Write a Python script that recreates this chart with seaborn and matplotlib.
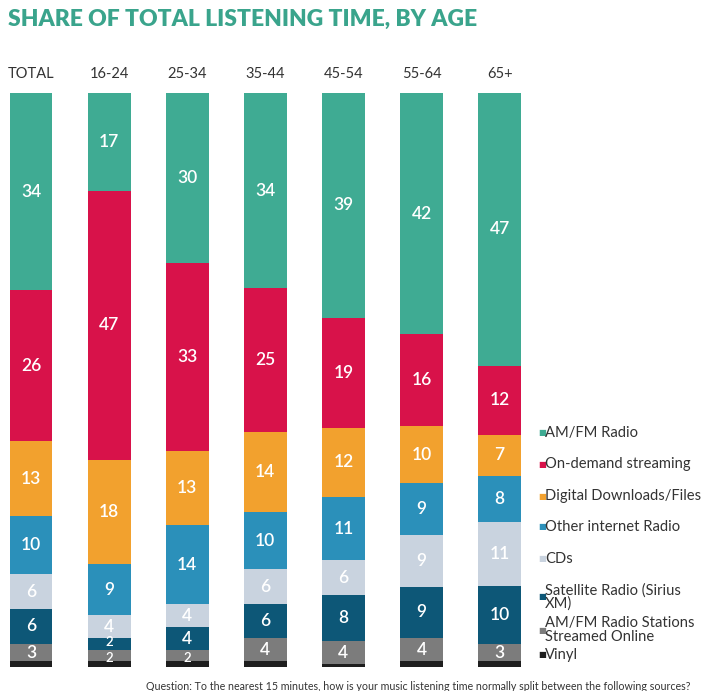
import numpy as np
import pandas as pd
import matplotlib.pyplot as plt
import seaborn as sns

# ---- data ----
ages = ['TOTAL', '16-24', '25-34', '35-44', '45-54', '55-64', '65+']
am_fm = [34, 17, 30, 34, 39, 42, 47]
on_demand = [26, 47, 33, 25, 19, 16, 12]
downloads = [13, 18, 13, 14, 12, 10, 7]
other_radio = [10, 9, 14, 10, 11, 9, 8]
cds = [6, 4, 4, 6, 6, 9, 11]
satellite = [6, 2, 4, 6, 8, 9, 10]
streamed = [3, 2, 2, 4, 4, 4, 3]
vinyl = [1, 1, 1, 1, 0.5, 1, 1]

sources = ['AM/FM Radio', 'On-demand streaming', 'Digital Downloads/Files',
           'Other internet Radio', 'CDs', 'Satellite Radio (Sirius\nXM)',
           'AM/FM Radio Stations\nStreamed Online', 'Vinyl']
colors = ['#3fab93', '#d8124a', '#f2a12e', '#2b90ba', '#c9d3df',
          '#0d5777', '#7c7c7c', '#1e1e1e']

wide = pd.DataFrame(dict(zip(sources, [am_fm, on_demand, downloads, other_radio,
                                       cds, satellite, streamed, vinyl])), index=ages)
# every bar in the original is drawn at full height
share = wide.div(wide.sum(axis=1), axis=0) * 100
top = share[sources[::-1]].cumsum(axis=1)[sources]   # top edge of each segment
bottom = top - share

sns.set_style('white')
plt.rcParams['font.family'] = ['Lato', 'DejaVu Sans']

fig = plt.figure(figsize=(7.09, 6.91), dpi=100)
ax = fig.add_axes([0, 24 / 691, 530 / 709, 574 / 691])

# cumulative overlay: tallest first, so each later bar covers the lower part
for src, c in zip(sources, colors):
    sns.barplot(x=ages, y=top[src].values, order=ages, color=c, saturation=1,
                width=0.55, linewidth=0, ax=ax)

# value labels
for i, age in enumerate(ages):
    for src in sources[:-1]:
        v = wide.loc[age, src]
        y = bottom.loc[age, src] + share.loc[age, src] / 2
        fs = 12.5
        if v <= 2:
            # tiny segments: smaller label, pushed a little apart
            fs = 9.5
            y += 0.35 if src.startswith('Satellite') else -0.35
        ax.text(i, y, f'{v:g}', ha='center', va='center',
                color='white', fontsize=fs, fontweight='semibold')

ax.set_xlim(-31 / 78.1, (530 - 31) / 78.1)
ax.set_ylim(0, 100)
ax.set_yticks([])
ax.tick_params(axis='x', top=True, labeltop=True, bottom=False, labelbottom=False,
               length=0, pad=9, labelsize=10.5, labelcolor='#333333')
sns.despine(ax=ax, left=True, bottom=True)

# title
fig.text(8 / 709, 1 - 19 / 691, 'SHARE OF TOTAL LISTENING TIME, BY AGE',
         color='#3aa48c', fontsize=16.5, fontweight='heavy', va='center', ha='left')

# legend (placed by hand to follow the uneven spacing of the original)
leg_y = [433, 464, 496, 527, 559, 597, 630, 655]
for src, c, yy in zip(sources, colors, leg_y):
    fy = 1 - yy / 691
    fig.text(538 / 709, fy, '■', color=c, fontsize=6, va='center', ha='left',
             family=['DejaVu Sans'])
    fig.text(545 / 709, fy, src, color='#333333', fontsize=10.6, va='center',
             ha='left', linespacing=0.95)

fig.text(146 / 709, 1 - 686 / 691,
         'Question: To the nearest 15 minutes, how is your music listening time '
         'normally split between the following sources?',
         color='#333333', fontsize=7.7, va='center', ha='left')

fig.savefig('out.png', dpi=100, facecolor='white')
